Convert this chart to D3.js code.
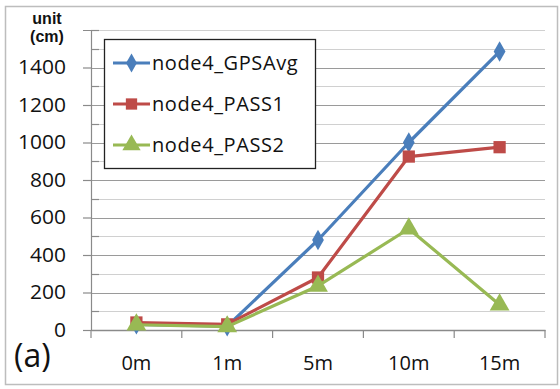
<!DOCTYPE html>
<html><head><meta charset="utf-8">
<script src="https://cdnjs.cloudflare.com/ajax/libs/d3/7.8.5/d3.min.js"></script>
<style>body{margin:0;background:#fff}svg{display:block}</style>
</head><body>
<script>
const categories = ["0m","1m","5m","10m","15m"];
const seriesNames = ["node4_GPSAvg","node4_PASS1","node4_PASS2"];
const gpsAvg = [30, 20, 480, 1000, 1485];
const pass1 = [40, 30, 280, 925, 975];
const pass2 = [28, 18, 235, 540, 135];
const yTicks = [0,200,400,600,800,1000,1200,1400];
const yMinor = [100,300,500,700,900,1100,1300,1500,1600];

const W=560,H=389;
const svg=d3.select("body").append("svg").attr("width",W).attr("height",H);
const font="'Open Sans', 'Liberation Sans', Arial, sans-serif";
svg.append("rect").attr("x",5.5).attr("y",6.5).attr("width",552).attr("height",378)
  .attr("fill","#fff").attr("stroke","#bdbdbd").attr("stroke-width",1.5);

const L=91,R=545,T=30,B=330;
const x=d3.scaleBand().domain(categories).range([L,R]);
const y=d3.scaleLinear().domain([0,1600]).range([B,T]);

// minor gridlines
svg.append("g").selectAll("line").data(yMinor).join("line")
  .attr("x1",L).attr("x2",R).attr("y1",d=>Math.round(y(d))+0.5).attr("y2",d=>Math.round(y(d))+0.5)
  .attr("stroke","#d0d0d0").attr("stroke-width",1.2);
// major gridlines
svg.append("g").selectAll("line").data(yTicks.filter(d=>d>0)).join("line")
  .attr("x1",L).attr("x2",R).attr("y1",d=>Math.round(y(d))+0.5).attr("y2",d=>Math.round(y(d))+0.5)
  .attr("stroke","#9a9a9a").attr("stroke-width",1.2);
// minor ticks inside
svg.append("g").selectAll("line").data(yMinor).join("line")
  .attr("x1",L).attr("x2",L+8).attr("y1",d=>Math.round(y(d))+0.5).attr("y2",d=>Math.round(y(d))+0.5)
  .attr("stroke","#8a8a8a").attr("stroke-width",1.2);

// y axis
const yAxis=svg.append("g").attr("transform",`translate(${L},0)`)
  .call(d3.axisLeft(y).tickValues(yTicks).tickFormat(d3.format("d")).tickSize(8).tickPadding(17));
yAxis.select(".domain").attr("stroke","#8a8a8a").attr("stroke-width",1.2);
yAxis.selectAll(".tick line").attr("stroke","#8a8a8a").attr("stroke-width",1.2);
yAxis.selectAll("text").attr("font-family",font).attr("font-size",20).attr("fill","#111")
  .attr("lengthAdjust","spacingAndGlyphs")
  .each(function(d){ const n=String(d).length; d3.select(this).attr("textLength",n*12); });

// x axis
const xAxis=svg.append("g").attr("transform",`translate(0,${B})`)
  .call(d3.axisBottom(x).tickSize(0).tickPadding(26));
xAxis.select(".domain").attr("stroke","#8a8a8a").attr("stroke-width",1.5);
xAxis.selectAll("text").attr("font-family",font).attr("font-size",20).attr("fill","#111");
const bounds=[L].concat(categories.map(c=>x(c)+x.bandwidth()));
svg.append("g").selectAll("line").data(bounds).join("line")
  .attr("x1",d=>d).attr("x2",d=>d).attr("y1",B).attr("y2",B+8)
  .attr("stroke","#8a8a8a").attr("stroke-width",1.2);

const colors=["#4a7ebb","#be4b48","#98b954"];
const data=[gpsAvg,pass1,pass2];
const cx=c=>x(c)+x.bandwidth()/2;
const line=d3.line().x((d,i)=>cx(categories[i])).y(d=>y(d));
const symbols=[d3.symbolDiamond,d3.symbolSquare,d3.symbolTriangle];
const sizes=[120,150,170];

[0,1,2].forEach(s=>{
  svg.append("path").datum(data[s]).attr("d",line).attr("fill","none")
    .attr("stroke",colors[s]).attr("stroke-width",3.2).attr("stroke-linejoin","round");
  svg.append("g").selectAll("path").data(data[s]).join("path")
    .attr("transform",(d,i)=>`translate(${cx(categories[i])},${y(d)})`)
    .attr("d",d3.symbol().type(symbols[s]).size(sizes[s]))
    .attr("fill",colors[s]);
});

// legend
const lg=svg.append("g");
lg.append("rect").attr("x",104.5).attr("y",39.5).attr("width",211).attr("height",129)
  .attr("fill","#fff").attr("stroke","#222").attr("stroke-width",1.3);
seriesNames.forEach((n,i)=>{
  const yy=63+i*41;
  lg.append("line").attr("x1",113).attr("x2",150).attr("y1",yy).attr("y2",yy)
    .attr("stroke",colors[i]).attr("stroke-width",3.2);
  lg.append("path").attr("transform",`translate(131.5,${yy})`)
    .attr("d",d3.symbol().type(symbols[i]).size(sizes[i]*0.85)).attr("fill",colors[i]);
  lg.append("text").attr("x",152).attr("y",yy+7).text(n)
    .attr("font-family",font).attr("font-size",20).attr("fill","#111")
    .attr("letter-spacing",0.6);
});

// unit label
const ufont="'Liberation Sans', Arial, sans-serif";
svg.append("text").attr("x",47).attr("y",24).attr("text-anchor","middle").text("unit")
  .attr("font-family",ufont).attr("font-weight","bold").attr("font-size",16).attr("fill","#111");
svg.append("text").attr("x",47).attr("y",42).attr("text-anchor","middle").text("(cm)")
  .attr("font-family",ufont).attr("font-weight","bold").attr("font-size",16).attr("fill","#111");
// (a)
svg.append("text").attr("x",14).attr("y",367).text("(a)")
  .attr("font-family",font).attr("font-size",32).attr("fill","#111");
</script>
</body></html>
